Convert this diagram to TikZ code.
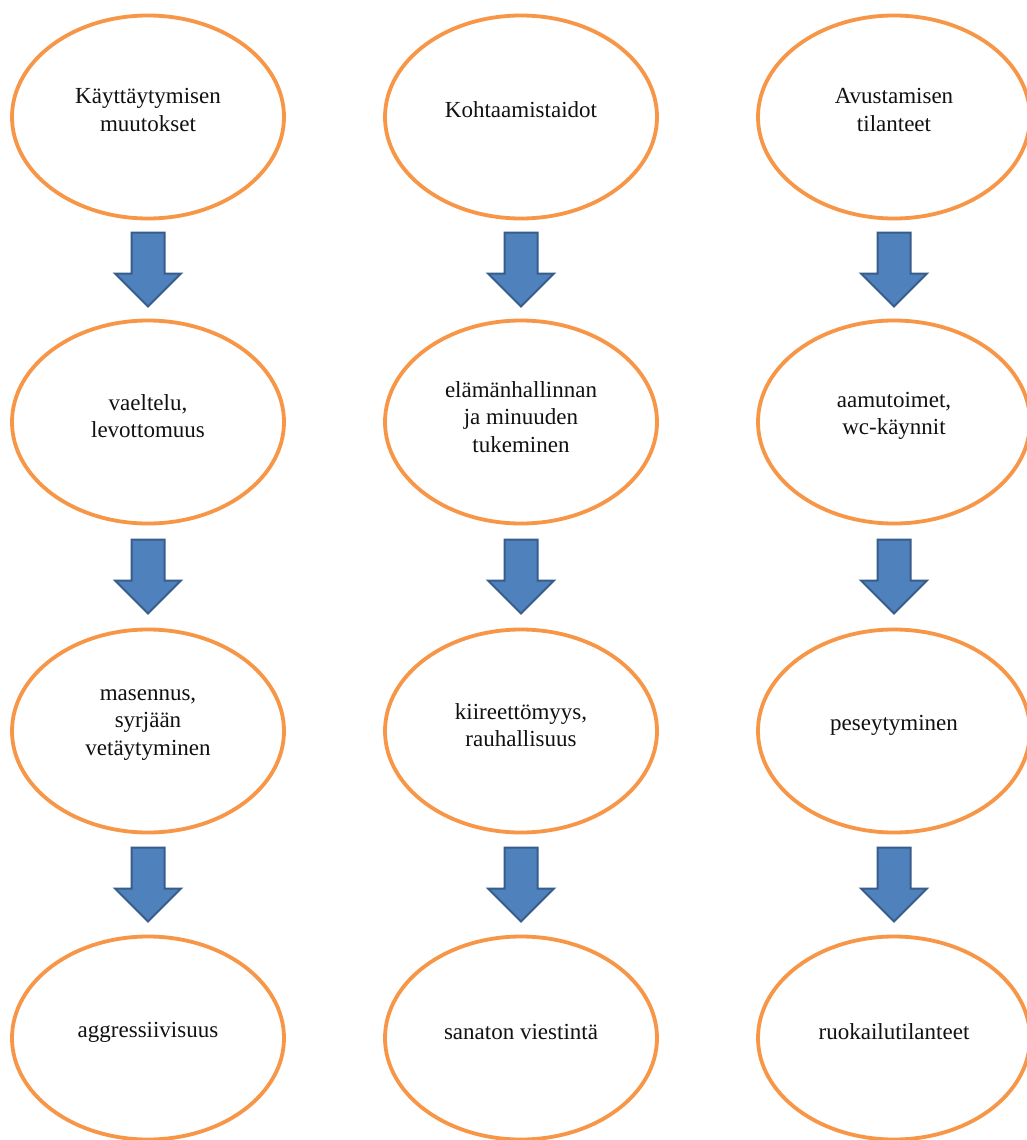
\documentclass[tikz,border=0pt]{standalone}
\usepackage{fontspec}
\setmainfont{Liberation Serif}
\usetikzlibrary{shapes.geometric,calc}
\definecolor{ellorange}{HTML}{F79646}
\definecolor{arrowblue}{HTML}{4F81BD}
\definecolor{arrowedge}{HTML}{385D8A}
\definecolor{txtcol}{HTML}{111111}
\begin{document}
\begin{tikzpicture}[x=1pt,y=1pt,
  ell/.style={ellipse, draw=ellorange, line width=3.8pt, fill=white,
    minimum width=272pt, minimum height=203pt, inner sep=0pt},
  txt/.style={align=center, text=txtcol, inner sep=0pt,
    font=\fontsize{23}{27.5}\selectfont},
  blk/.style={fill=arrowblue, draw=arrowedge, line width=2pt, line join=miter}]
\clip (0,0) rectangle (1027,-1140);
\fill[white] (0,0) rectangle (1027,-1140);
% column x: 148, 521, 894 ; row y: 117, 422, 731, 1038
\foreach \c/\x in {1/148,2/521,3/894}{
  \foreach \r/\y in {1/117,2/422,3/731,4/1038}{
    \node[ell] (e\r\c) at (\x,-\y) {};
  }
}
% texts
\node[txt] (t11) at ([yshift=7pt]e11) {Käyttäytymisen\\muutokset};
\node[txt] (t12) at ([yshift=7pt]e12) {Kohtaamistaidot};
\node[txt] (t13) at ([yshift=7pt]e13) {Avustamisen\\tilanteet};
\node[txt] (t21) at ([yshift=6pt]e21) {vaeltelu,\\levottomuus};
\node[txt] (t22) at ([yshift=5pt]e22) {elämänhallinnan\\ja minuuden\\tukeminen};
\node[txt] (t23) at ([yshift=6pt]e23) {aamutoimet,\\wc-käynnit};
\node[txt] (t31) at ([yshift=6pt]e31) {masennus,\\syrjään\\vetäytyminen};
\node[txt] (t32) at ([yshift=6pt]e32) {kiireettömyys,\\rauhallisuus};
\node[txt] (t33) at ([yshift=6pt]e33) {peseytyminen};
\node[txt] (t41) at ([yshift=6pt]e41) {aggressiivisuus};
\node[txt] (t42) at ([yshift=6pt]e42) {sanaton viestintä};
\node[txt] (t43) at ([yshift=6pt]e43) {ruokailutilanteet};
% block arrows between ellipses
\foreach \c in {1,2,3}{
  \foreach \a/\b in {1/2,2/3,3/4}{
    \coordinate (m\a\b\c) at ($(e\a\c.south)!0.5!(e\b\c.north)$);
    \draw[blk, shift={(m\a\b\c)}] (-16.5,37) -- (16.5,37) -- (16.5,-4)
      -- (33,-4) -- (0,-37) -- (-33,-4) -- (-16.5,-4) -- cycle;
  }
}
\end{tikzpicture}
\end{document}
